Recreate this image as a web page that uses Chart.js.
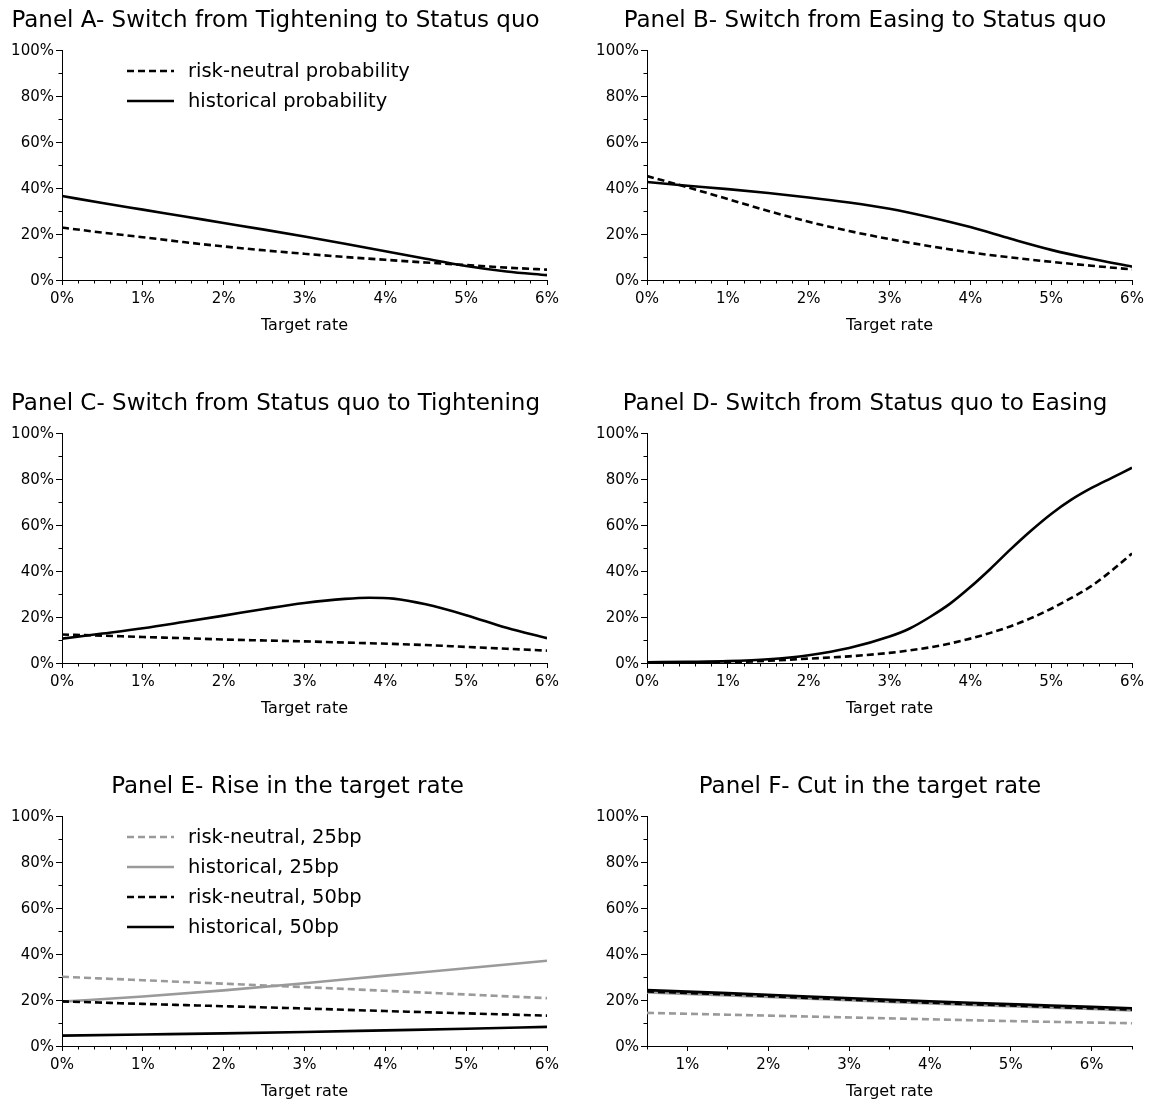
<!DOCTYPE html>
<html>
<head>
<meta charset="utf-8">
<script src="https://cdn.jsdelivr.net/npm/chart.js@4.4.0/dist/chart.umd.min.js"></script>
<style>
html,body{margin:0;padding:0;background:#fff;}
body{width:1153px;height:1104px;position:relative;overflow:hidden;}
canvas{position:absolute;}
</style>
</head>
<body>
<canvas id="cA" width="576" height="340" style="left:0px;top:0px"></canvas>
<canvas id="cB" width="576" height="340" style="left:576px;top:0px"></canvas>
<canvas id="cC" width="576" height="340" style="left:0px;top:383px"></canvas>
<canvas id="cD" width="576" height="340" style="left:576px;top:383px"></canvas>
<canvas id="cE" width="576" height="340" style="left:0px;top:766px"></canvas>
<canvas id="cF" width="576" height="340" style="left:576px;top:766px"></canvas>
<script>
// ---------------- data ----------------
const yTickValues = [0, 20, 40, 60, 80, 100];
const xTickValues = [0, 1, 2, 3, 4, 5, 6];
const xTickValuesF = [1, 2, 3, 4, 5, 6];
const xAxisTitle = 'Target rate';

const titleA = 'Panel A- Switch from Tightening to Status quo';
const titleB = 'Panel B- Switch from Easing to Status quo';
const titleC = 'Panel C- Switch from Status quo to Tightening';
const titleD = 'Panel D- Switch from Status quo to Easing';
const titleE = 'Panel E- Rise in the target rate';
const titleF = 'Panel F- Cut in the target rate';

const labelsTop = ['risk-neutral probability', 'historical probability'];
const labelsBottom = ['risk-neutral, 25bp', 'historical, 25bp', 'risk-neutral, 50bp', 'historical, 50bp'];

const rateA = [0, 0.5, 1, 1.5, 2, 2.5, 3, 3.5, 4, 4.5, 5, 5.5, 6];
const A_riskNeutral = [22.8, 20.6, 18.6, 16.5, 14.6, 12.9, 11.4, 10.0, 8.8, 7.6, 6.5, 5.4, 4.5];
const A_historical  = [36.5, 33.5, 30.6, 27.7, 24.8, 21.9, 18.9, 15.8, 12.5, 9.2, 6.1, 3.7, 2.1];

const rateB = [0, 0.5, 1, 1.5, 2, 2.5, 3, 3.5, 4, 4.5, 5, 5.5, 6];
const B_riskNeutral = [45.2, 40.3, 35.2, 30.0, 25.3, 21.3, 17.8, 14.7, 12.0, 9.8, 7.9, 6.2, 4.6];
const B_historical  = [42.6, 41.0, 39.5, 37.8, 35.9, 33.7, 31.0, 27.3, 23.0, 17.9, 13.1, 9.2, 5.8];

const rateC = [0, 0.5, 1, 1.5, 2, 2.5, 3, 3.5, 3.8, 4.1, 4.5, 5, 5.5, 6];
const C_riskNeutral = [12.4, 11.9, 11.3, 10.8, 10.2, 9.8, 9.4, 8.9, 8.6, 8.3, 7.8, 7.0, 6.2, 5.4];
const C_historical  = [10.6, 12.8, 15.1, 17.8, 20.6, 23.5, 26.1, 27.9, 28.4, 28.0, 25.5, 20.8, 15.3, 10.8];

const rateD = [0, 0.5, 1, 1.5, 2, 2.5, 3, 3.25, 3.5, 3.75, 4, 4.25, 4.5, 4.75, 5, 5.25, 5.5, 5.75, 6];
const D_riskNeutral = [0.0, 0.1, 0.3, 1.0, 1.9, 2.9, 4.4, 5.5, 6.8, 8.5, 10.6, 13.1, 16.0, 19.5, 23.6, 28.3, 33.5, 40.2, 47.6];
const D_historical  = [0.3, 0.5, 0.8, 1.6, 3.4, 6.5, 11.5, 15.0, 20.0, 25.8, 33.0, 41.0, 49.5, 57.5, 64.8, 71.0, 76.1, 80.5, 84.9];

const rateE = [0, 1, 2, 3, 4, 5, 6];
const E_riskNeutral25 = [30.1, 28.6, 27.1, 25.6, 24.0, 22.4, 20.8];
const E_historical25  = [19.3, 21.5, 24.2, 27.3, 30.6, 33.8, 37.1];
const E_riskNeutral50 = [19.4, 18.3, 17.3, 16.3, 15.2, 14.2, 13.2];
const E_historical50  = [4.5, 5.0, 5.5, 6.1, 6.8, 7.5, 8.3];

const rateF = [0.5, 1.5, 2.5, 3.5, 4.5, 5.5, 6.5];
const F_riskNeutral25 = [14.4, 13.6, 12.8, 12.0, 11.2, 10.5, 9.9];
const F_historical25  = [23.3, 22.0, 20.6, 19.2, 17.9, 16.7, 15.5];
const F_riskNeutral50 = [23.7, 22.4, 20.9, 19.5, 18.2, 17.0, 15.8];
const F_historical50  = [24.3, 23.0, 21.5, 20.1, 18.8, 17.6, 16.4];

// ---------------- styles ----------------
const FONT = "'DejaVu Sans', 'Liberation Sans', sans-serif";
Chart.defaults.color = '#000';
Chart.defaults.font.family = FONT;

const BLACK = '#000000', GRAY = '#9a9a9a';
const styleDashed = (c) => ({ borderColor: c, borderDash: [7, 4], borderWidth: 2.6 });
const styleSolid = (c) => ({ borderColor: c, borderDash: [], borderWidth: 2.6 });

function series(label, xs, ys, style, order) {
  return Object.assign({
    label: label,
    data: xs.map((x, i) => ({ x: x, y: ys[i] })),
    pointRadius: 0,
    fill: false,
    cubicInterpolationMode: 'monotone',
    order: order,
    borderCapStyle: 'butt'
  }, style);
}

const alignPx = (p) => Math.round(p - 0.5) + 0.5;

const extrasPlugin = {
  id: 'extras',
  afterDraw(chart, args, o) {
    const ctx = chart.ctx, xs = chart.scales.x, ys = chart.scales.y, ca = chart.chartArea;
    ctx.save();
    ctx.strokeStyle = '#000';
    ctx.lineWidth = 1;
    ctx.setLineDash([]);
    ctx.beginPath();
    const yb = alignPx(ca.bottom), xl = alignPx(ca.left);
    const nx = Math.round((xs.max - xs.min) / o.xMinor);
    for (let i = 0; i <= nx; i++) {
      const v = xs.min + i * o.xMinor;
      if (o.xMajor.some(m => Math.abs(m - v) < 1e-6)) continue;
      const px = alignPx(xs.getPixelForValue(v));
      ctx.moveTo(px, yb); ctx.lineTo(px, yb + o.minorLen);
    }
    const ny = Math.round((ys.max - ys.min) / o.yMinor);
    for (let i = 0; i <= ny; i++) {
      const v = ys.min + i * o.yMinor;
      if (yTickValues.some(m => Math.abs(m - v) < 1e-6)) continue;
      const py = alignPx(ys.getPixelForValue(v));
      ctx.moveTo(xl, py); ctx.lineTo(xl - o.minorLen - 1, py);
    }
    ctx.stroke();

    if (o.legend) {
      ctx.font = '19.5px ' + FONT;
      ctx.textBaseline = 'middle';
      ctx.textAlign = 'left';
      ctx.fillStyle = '#000';
      chart.data.datasets.forEach((ds, i) => {
        const y = ca.top + o.legendTop + i * o.legendRow;
        const x0 = ca.left + o.legendLeft;
        ctx.save();
        ctx.strokeStyle = ds.borderColor;
        ctx.lineWidth = ds.borderWidth;
        ctx.setLineDash(ds.borderDash || []);
        ctx.beginPath();
        ctx.moveTo(x0, y); ctx.lineTo(x0 + o.legendLine, y);
        ctx.stroke();
        ctx.restore();
        ctx.fillText(ds.label, x0 + o.legendTextGap, y + 1);
      });
    }
    ctx.restore();
  }
};

function makeChart(id, title, datasets, xr, xMajor, xMinor, lay, legend) {
  new Chart(document.getElementById(id), {
    type: 'line',
    data: { datasets: datasets },
    plugins: [extrasPlugin],
    options: {
      responsive: false,
      animation: false,
      events: [],
      layout: { padding: { left: lay.pl, right: lay.pr, top: 0, bottom: 0 } },
      plugins: {
        legend: { display: false },
        tooltip: { enabled: false },
        title: {
          display: true, text: title,
          font: { size: 23, weight: 'normal', family: FONT },
          color: '#000',
          padding: { top: 7, bottom: 15.4 }
        },
        extras: {
          xMajor: xMajor, xMinor: xMinor, yMinor: 10, minorLen: 3,
          legend: legend, legendTop: 21, legendRow: 30, legendLeft: 65, legendLine: 47, legendTextGap: 61
        }
      },
      scales: {
        x: {
          type: 'linear', min: xr[0], max: xr[1],
          afterBuildTicks: (s) => { s.ticks = xMajor.map(v => ({ value: v })); },
          afterFit: (s) => { s.height = 60; },
          grid: { display: true, drawOnChartArea: false, drawTicks: true, tickLength: 5, color: '#000' },
          border: { display: true, color: '#000', width: 1 },
          ticks: { padding: 5, maxRotation: 0, autoSkip: false, font: { size: 15 }, color: '#000', callback: (v) => v + '%' },
          title: { display: true, text: xAxisTitle, font: { size: 16 }, color: '#000', padding: { top: 0, bottom: 4.5 } }
        },
        y: {
          type: 'linear', min: 0, max: 100,
          afterBuildTicks: (s) => { s.ticks = yTickValues.map(v => ({ value: v })); },
          afterFit: (s) => { s.width = lay.yw; },
          grid: { display: true, drawOnChartArea: false, drawTicks: true, tickLength: 6, color: '#000' },
          border: { display: true, color: '#000', width: 1 },
          ticks: { padding: 2, labelOffset: 1, font: { size: 15 }, color: '#000', callback: (v) => v + '%' }
        },
        y2: {
          type: 'linear', position: 'right', min: 0, max: 1,
          display: lay.spacer > 0,
          afterFit: (s) => { s.width = lay.spacer; },
          grid: { display: false, drawTicks: false },
          border: { display: false },
          ticks: { display: false }
        }
      }
    }
  });
}

const layLeftLong  = { pl: 4,  yw: 58, pr: 29, spacer: 0 };
const layRight     = { pl: 10, yw: 61, pr: 8,  spacer: 12 };
const layE         = { pl: 0,  yw: 62, pr: 1,  spacer: 28 };
const layF         = { pl: 12, yw: 59, pr: 0,  spacer: 20 };

makeChart('cA', titleA, [
  series(labelsTop[0], rateA, A_riskNeutral, styleDashed(BLACK), 1),
  series(labelsTop[1], rateA, A_historical, styleSolid(BLACK), 0)
], [0, 6], xTickValues, 0.2, layLeftLong, true);

makeChart('cB', titleB, [
  series(labelsTop[0], rateB, B_riskNeutral, styleDashed(BLACK), 1),
  series(labelsTop[1], rateB, B_historical, styleSolid(BLACK), 0)
], [0, 6], xTickValues, 0.2, layRight, false);

makeChart('cC', titleC, [
  series(labelsTop[0], rateC, C_riskNeutral, styleDashed(BLACK), 1),
  series(labelsTop[1], rateC, C_historical, styleSolid(BLACK), 0)
], [0, 6], xTickValues, 0.2, layLeftLong, false);

makeChart('cD', titleD, [
  series(labelsTop[0], rateD, D_riskNeutral, styleDashed(BLACK), 1),
  series(labelsTop[1], rateD, D_historical, styleSolid(BLACK), 0)
], [0, 6], xTickValues, 0.2, layRight, false);

makeChart('cE', titleE, [
  series(labelsBottom[0], rateE, E_riskNeutral25, styleDashed(GRAY), 3),
  series(labelsBottom[1], rateE, E_historical25, styleSolid(GRAY), 2),
  series(labelsBottom[2], rateE, E_riskNeutral50, styleDashed(BLACK), 1),
  series(labelsBottom[3], rateE, E_historical50, styleSolid(BLACK), 0)
], [0, 6], xTickValues, 0.2, layE, true);

makeChart('cF', titleF, [
  series(labelsBottom[0], rateF, F_riskNeutral25, styleDashed(GRAY), 3),
  series(labelsBottom[1], rateF, F_historical25, styleSolid(GRAY), 2),
  series(labelsBottom[2], rateF, F_riskNeutral50, styleDashed(BLACK), 1),
  series(labelsBottom[3], rateF, F_historical50, styleSolid(BLACK), 0)
], [0.5, 6.5], xTickValuesF, 0.5, layF, false);
</script>
</body>
</html>
